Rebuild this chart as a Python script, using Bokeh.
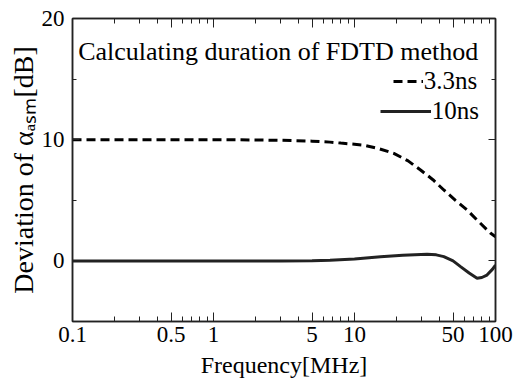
import numpy as np
from bokeh.plotting import figure
from bokeh.models import (LogAxis, LinearAxis, FixedTicker, CustomJSTickFormatter,
                          Label, Legend, LegendItem, Range1d)
from bokeh.embed import file_html
from bokeh.resources import INLINE

# ---- data ----
freq_33 = [0.1, 0.3, 1, 2, 3, 5, 6.7, 8, 10, 11.6, 15, 19, 24, 29.4, 36, 43, 52, 63, 75, 92, 100]
dev_33 = [10.0, 10.0, 10.0, 9.98, 9.95, 9.88, 9.8, 9.72, 9.62, 9.55, 9.25, 8.87, 8.25, 7.5, 6.7, 5.85, 5.0, 4.2, 3.3, 2.3, 2.0]

freq_10 = [0.1, 1, 3, 5, 6.7, 10, 15.3, 22, 32.7, 38, 43, 50, 56.5, 65, 74, 80, 87, 95, 100]
dev_10 = [0.0, 0.0, 0.0, 0.02, 0.06, 0.15, 0.35, 0.47, 0.55, 0.5, 0.35, 0.0, -0.47, -1.0, -1.43, -1.37, -1.17, -0.7, -0.35]

x_ticks = [0.1, 0.5, 1, 5, 10, 50, 100]
x_minor = [0.2, 0.3, 0.4, 0.6, 0.7, 0.8, 0.9, 2, 3, 4, 6, 7, 8, 9, 20, 30, 40, 60, 70, 80, 90]
y_ticks = [0, 10, 20]
y_minor = [-5, 5, 15]

legend_title = "Calculating duration of FDTD method"
label_33 = "3.3ns"
label_10 = "10ns"
x_label = "Frequency[MHz]"
y_label = "Deviation of \u03b1\u2090\u209b\u2098[dB]"

FONT = "Liberation Serif"

p = figure(width=514, height=380, x_axis_type="log",
           x_range=Range1d(0.1, 100), y_range=Range1d(-5, 20),
           output_backend="svg", toolbar_location=None,
           min_border_left=72, min_border_right=19, min_border_top=18, min_border_bottom=58)
p.xgrid.visible = False
p.ygrid.visible = False
p.background_fill_color = "white"
p.border_fill_color = "white"
p.outline_line_color = "#222222"
p.outline_line_width = 1.5

xt = FixedTicker(ticks=x_ticks, minor_ticks=x_minor)
yt = FixedTicker(ticks=y_ticks, minor_ticks=y_minor)
fmt = CustomJSTickFormatter(code="return String(tick)")
blank = CustomJSTickFormatter(code="return ''")

def style_axis(ax, tin, tmin, labels, standoff):
    ax.major_tick_in = tin
    ax.major_tick_out = 0
    ax.minor_tick_in = tmin
    ax.minor_tick_out = 0
    ax.major_tick_line_color = "#222222"
    ax.minor_tick_line_color = "#222222"
    ax.axis_line_color = "#222222"
    ax.axis_line_width = 1.5
    ax.major_label_text_font = FONT
    ax.major_label_text_color = "black"
    ax.major_label_text_font_size = "23px"
    ax.major_label_standoff = standoff
    if not labels:
        ax.formatter = blank
        ax.major_label_standoff = 0

xa = p.xaxis[0]
xa.ticker = xt
xa.formatter = fmt
style_axis(xa, 9, 5, True, 5)
xa.axis_label = x_label
xa.axis_label_text_font = FONT
xa.axis_label_text_font_size = "24px"
xa.axis_label_text_font_style = "normal"
xa.axis_label_text_color = "black"
xa.axis_label_standoff = 7

ya = p.yaxis[0]
ya.ticker = yt
style_axis(ya, 7, 4, True, 8)
ya.axis_label = y_label
ya.axis_label_text_font = FONT
ya.axis_label_text_font_size = "28px"
ya.axis_label_text_font_style = "normal"
ya.axis_label_text_color = "black"
ya.axis_label_standoff = 0

top_ax = LogAxis(ticker=xt)
style_axis(top_ax, 9, 5, False, 0)
p.add_layout(top_ax, "above")
right_ax = LinearAxis(ticker=yt)
style_axis(right_ax, 7, 4, False, 0)
p.add_layout(right_ax, "right")

r33 = p.line(freq_33, dev_33, line_color="black", line_width=3, line_dash="9 5")
r10 = p.line(freq_10, dev_10, line_color="#222222", line_width=3)

# legend (two single-item legends so that texts are right aligned)
common = dict(label_standoff=1, padding=0, margin=0, spacing=0,
              border_line_color=None, background_fill_alpha=0,
              label_text_font=FONT, label_text_font_size="25px",
              label_text_color="black", label_height=20, glyph_height=20)
leg33 = Legend(items=[LegendItem(label=label_33, renderers=[r33])],
               location=(320.7, 226.5), glyph_width=30, **common)
leg10 = Legend(items=[LegendItem(label=label_10, renderers=[r10])],
               location=(307.7, 196.5), glyph_width=51, **common)
p.add_layout(leg33)
p.add_layout(leg10)

p.add_layout(Label(x=405.7, y=270, x_units="screen", y_units="screen", text=legend_title,
                   text_align="right", text_baseline="alphabetic",
                   text_font=FONT, text_font_size="26px", text_color="black"))

open("out.html", "w").write(file_html(p, INLINE))
